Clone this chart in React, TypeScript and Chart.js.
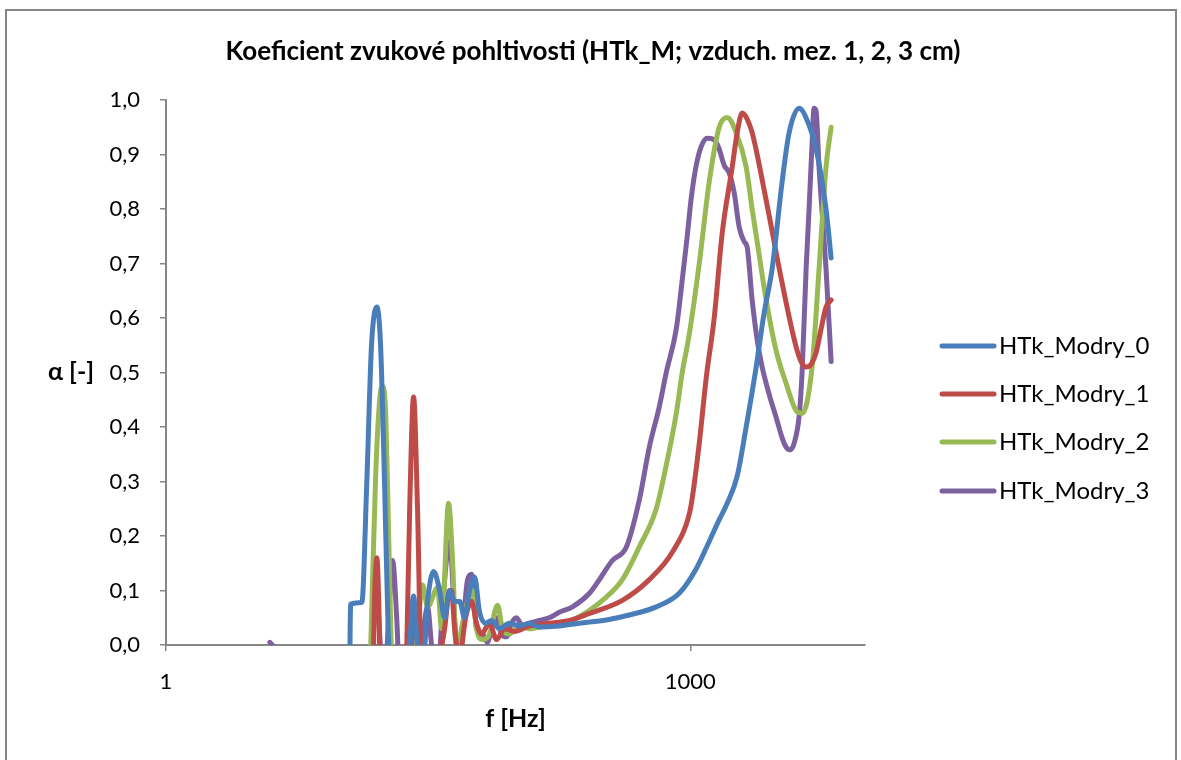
import { useEffect, useRef } from 'react';
import { Chart, registerables } from 'chart.js';

Chart.register(...registerables);

const chartTitle = 'Koeficient zvukové pohltivosti (HTk_M; vzduch. mez. 1, 2, 3 cm)';
const xTitle = 'f [Hz]';
const yTitle = 'α [-]';

const seriesNames = ['HTk_Modry_0', 'HTk_Modry_1', 'HTk_Modry_2', 'HTk_Modry_3'];
const seriesColors = ['#4A7EBB', '#BE4B48', '#98B954', '#7D60A0'];

const xTickValues = [1, 1000];
const yTickValues = [0, 0.1, 0.2, 0.3, 0.4, 0.5, 0.6, 0.7, 0.8, 0.9, 1.0];

const freq0 = [11.1, 11.4, 13.2, 14.1, 15.0, 16.1, 16.9, 17.8, 18.6, 19.6, 23.2, 24.8, 26.1, 27.5, 29.8, 31.4, 34.0, 36.8, 39.3, 42.0, 44.8, 47.9, 51.1, 54.6, 58.3, 62.3, 67.4, 72.9, 81.0, 92.4, 105, 120, 137, 178, 232, 331, 448, 639, 865, 1082, 1284, 1465, 1627, 1856, 2089, 2383, 2648, 2942, 3356, 3679, 4198, 4664, 5248, 5984, 6400];
const alpha0 = [-0.3, 0.075, 0.078, 0.3, 0.55, 0.62, 0.55, 0.3, 0.05, -0.1, -0.1, 0.0, 0.09, 0.0, -0.02, 0.08, 0.135, 0.1, 0.05, 0.1, 0.08, 0.08, 0.05, 0.1, 0.125, 0.06, 0.04, 0.045, 0.03, 0.04, 0.035, 0.04, 0.033, 0.035, 0.04, 0.046, 0.055, 0.07, 0.095, 0.14, 0.19, 0.23, 0.26, 0.31, 0.4, 0.51, 0.61, 0.69, 0.85, 0.94, 0.985, 0.963, 0.91, 0.8, 0.71];

const freq1 = [15.0, 15.6, 16.1, 16.5, 17.2, 21.7, 23.5, 24.8, 26.1, 27.5, 29.0, 31.4, 36.8, 39.3, 42.0, 43.1, 44.8, 47.9, 51.8, 56.1, 59.8, 63.9, 71.0, 77.9, 86.5, 98.7, 120, 156, 204, 265, 409, 583, 789, 987, 1027, 1126, 1234, 1371, 1524, 1738, 1856, 1982, 2117, 2261, 2719, 3356, 4035, 4309, 4603, 4914, 5248, 5606, 5984, 6400];
const alpha1 = [-0.2, 0.08, 0.16, 0.08, -0.2, -0.3, -0.1, 0.25, 0.455, 0.25, -0.05, -0.05, -0.02, 0.03, 0.1, 0.1, 0.03, -0.02, 0.05, 0.08, 0.04, 0.02, 0.04, 0.01, 0.03, 0.025, 0.035, 0.04, 0.045, 0.058, 0.082, 0.12, 0.17, 0.24, 0.27, 0.37, 0.49, 0.6, 0.756, 0.877, 0.94, 0.976, 0.965, 0.94, 0.816, 0.664, 0.547, 0.52, 0.51, 0.515, 0.536, 0.58, 0.62, 0.633];

const freq2 = [14.3, 15.0, 15.8, 16.7, 17.4, 18.1, 18.8, 19.6, 20.6, 25.5, 27.5, 29.4, 31.4, 35.8, 37.8, 41.4, 43.7, 46.0, 49.1, 53.2, 56.8, 59.8, 64.8, 71.0, 78.9, 84.3, 92.4, 105, 120, 146, 212, 331, 409, 511, 639, 729, 832, 900, 987, 1126, 1284, 1465, 1627, 1832, 2089, 2261, 2415, 2719, 3100, 3537, 4035, 4365, 4979, 5459, 5984, 6400];
const alpha2 = [-0.2, 0.05, 0.3, 0.45, 0.475, 0.42, 0.2, -0.05, -0.2, -0.1, 0.02, 0.11, 0.07, 0.105, 0.03, 0.26, 0.15, -0.02, 0.03, 0.08, 0.1, 0.03, 0.01, 0.02, 0.073, 0.03, 0.02, 0.035, 0.03, 0.035, 0.046, 0.088, 0.12, 0.18, 0.25, 0.33, 0.425, 0.5, 0.57, 0.7, 0.85, 0.95, 0.968, 0.94, 0.877, 0.8, 0.74, 0.633, 0.54, 0.48, 0.43, 0.425, 0.51, 0.69, 0.877, 0.95];

const freq3 = [3.93, 4.79, 8.65, 14.6, 15.4, 16.1, 16.7, 17.6, 18.8, 19.8, 20.9, 22.0, 24.5, 25.8, 27.5, 29.4, 31.4, 33.1, 35.8, 38.8, 42.0, 44.8, 47.2, 50.5, 53.2, 56.1, 59.8, 64.8, 69.2, 72.9, 77.9, 83.2, 88.8, 94.9, 101, 110, 120, 137, 156, 178, 212, 265, 302, 358, 431, 511, 583, 665, 729, 832, 900, 961, 1013, 1082, 1156, 1251, 1353, 1445, 1565, 1671, 1784, 1905, 2035, 2117, 2261, 2415, 2579, 2828, 3100, 3356, 3537, 3727, 3930, 4198, 4365, 4603, 4786, 4979, 5111, 5248, 5459, 5754, 5984, 6400];
const alpha3 = [0.005, -0.03, -0.3, -0.2, 0.04, 0.077, 0.02, -0.1, 0.05, 0.155, 0.05, -0.1, -0.05, 0.03, -0.02, 0.02, 0.07, 0.0, -0.05, 0.1, 0.19, 0.05, -0.05, 0.05, 0.12, 0.13, 0.03, 0.02, 0.005, 0.03, 0.05, 0.02, 0.015, 0.04, 0.05, 0.035, 0.04, 0.045, 0.05, 0.06, 0.07, 0.095, 0.12, 0.155, 0.18, 0.266, 0.363, 0.437, 0.5, 0.58, 0.67, 0.75, 0.82, 0.88, 0.915, 0.93, 0.928, 0.915, 0.88, 0.866, 0.83, 0.767, 0.74, 0.73, 0.633, 0.56, 0.51, 0.46, 0.418, 0.38, 0.363, 0.358, 0.37, 0.42, 0.5, 0.69, 0.8, 0.92, 0.985, 0.98, 0.877, 0.77, 0.69, 0.52];

const seriesFreqs = [freq0, freq1, freq2, freq3];
const seriesAlphas = [alpha0, alpha1, alpha2, alpha3];

const FONT = 'Lato, "DejaVu Sans", sans-serif';

const decorPlugin = {
  id: 'decor',
  beforeDraw(chart: any) {
    const ctx = chart.ctx;
    ctx.save();
    ctx.fillStyle = '#ffffff';
    ctx.fillRect(0, 0, chart.width, chart.height);
    ctx.strokeStyle = '#868686';
    ctx.lineWidth = 2;
    ctx.strokeRect(6, 10, 1170, 760);
    ctx.restore();
  },
  afterDraw(chart: any) {
    const ctx = chart.ctx;
    const area = chart.chartArea;
    ctx.save();
    ctx.fillStyle = '#000000';
    ctx.textAlign = 'center';
    ctx.textBaseline = 'middle';
    ctx.font = `bold 26px ${FONT}`;
    ctx.fillText(chartTitle, 593, 52);
    ctx.font = `bold 25px ${FONT}`;
    ctx.fillText(xTitle, (area.left + area.right) / 2, 719);
    ctx.fillText(yTitle, 71, 372);
    // legend
    const legendY = [346, 394, 442, 491];
    chart.data.datasets.forEach((ds: any, i: number) => {
      const y = legendY[i];
      ctx.strokeStyle = ds.borderColor;
      ctx.lineWidth = 5;
      ctx.lineCap = 'round';
      ctx.beginPath();
      ctx.moveTo(942, y);
      ctx.lineTo(994, y);
      ctx.stroke();
      ctx.fillStyle = '#000000';
      ctx.textAlign = 'left';
      ctx.font = `24px ${FONT}`;
      ctx.fillText(ds.label, 999, y);
    });
    ctx.restore();
  },
};

export default function App() {
  const canvasRef = useRef<HTMLCanvasElement | null>(null);

  useEffect(() => {
    const canvas = canvasRef.current;
    if (!canvas) return;
    const datasets = seriesNames.map((name, i) => ({
      label: name,
      data: seriesFreqs[i].map((f, j) => ({ x: f, y: seriesAlphas[i][j] })),
      borderColor: seriesColors[i],
      backgroundColor: seriesColors[i],
      borderWidth: 5,
      pointRadius: 0,
      cubicInterpolationMode: 'monotone',
      borderCapStyle: 'round',
      borderJoinStyle: 'round',
      fill: false,
    }));
    const chart = new Chart(canvas, {
      type: 'line',
      data: { datasets } as any,
      options: {
        responsive: false,
        animation: false,
        events: [],
        layout: { padding: { left: 0, top: 100, right: 316, bottom: 0 } },
        plugins: {
          legend: { display: false },
          title: { display: false },
          tooltip: { enabled: false },
        },
        scales: {
          x: {
            type: 'logarithmic',
            min: 1,
            max: 10000,
            afterBuildTicks: (s: any) => {
              s.ticks = xTickValues.map((v) => ({ value: v }));
            },
            afterFit: (s: any) => {
              s.height = 115;
            },
            ticks: {
              callback: (v: any) => String(v),
              autoSkip: false,
              maxRotation: 0,
              padding: 18,
              color: '#000000',
              font: { family: FONT, size: 22 },
            },
            grid: {
              display: true,
              drawOnChartArea: false,
              drawTicks: true,
              tickLength: 6,
              color: '#868686',
              lineWidth: 1.5,
            },
            border: { display: true, color: '#868686', width: 2 },
          },
          y: {
            type: 'linear',
            min: 0,
            max: 1,
            afterBuildTicks: (s: any) => {
              s.ticks = yTickValues.map((v) => ({ value: v }));
            },
            afterFit: (s: any) => {
              s.width = 166;
            },
            ticks: {
              callback: (v: any) => Number(v).toFixed(1).replace('.', ','),
              padding: 20,
              color: '#000000',
              font: { family: FONT, size: 22 },
            },
            grid: {
              display: true,
              drawOnChartArea: false,
              drawTicks: true,
              tickLength: 6,
              color: '#868686',
              lineWidth: 1.5,
            },
            border: { display: true, color: '#868686', width: 2 },
          },
        },
      } as any,
      plugins: [decorPlugin],
    });
    return () => chart.destroy();
  }, []);

  return (
    <div style={{ position: 'fixed', left: 0, top: 0, width: 1181, height: 760, background: '#fff' }}>
      <canvas ref={canvasRef} width={1181} height={760} style={{ display: 'block' }} />
    </div>
  );
}
